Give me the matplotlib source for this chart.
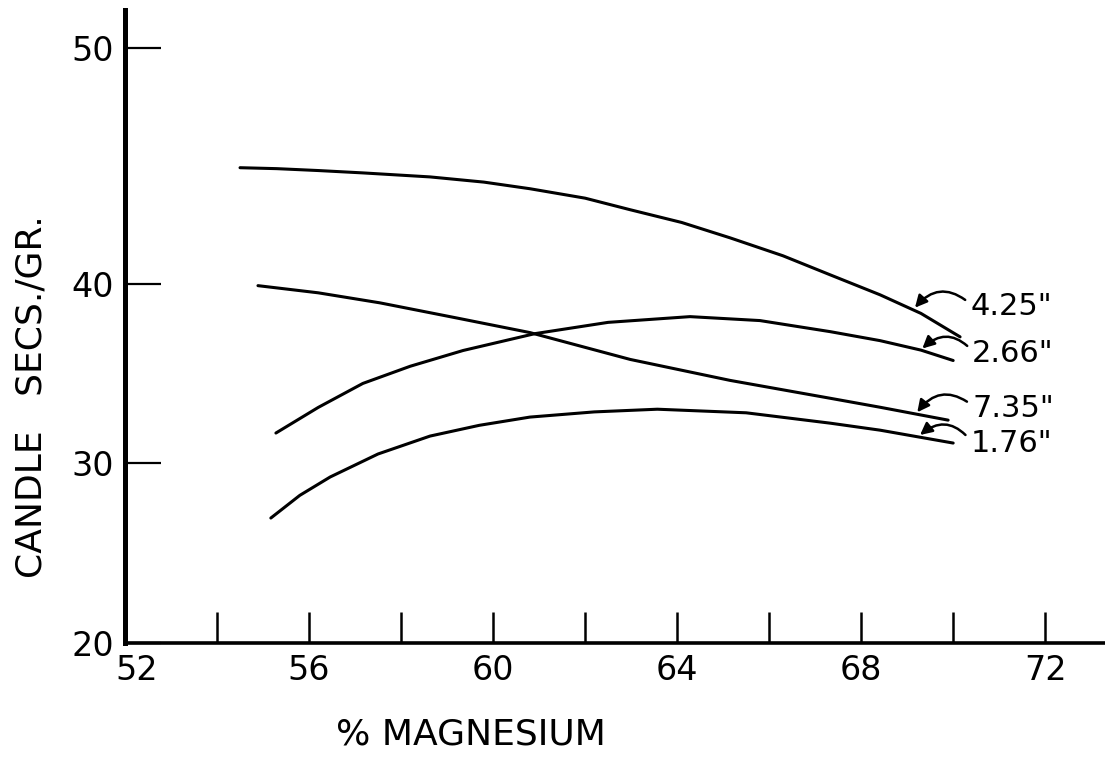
import matplotlib
matplotlib.use("Agg")
import numpy as np
import matplotlib.pyplot as plt
from matplotlib.transforms import ScaledTranslation

# curves (% magnesium, candle secs./gr.)
mg_425 = [54.5, 55.3, 56.2, 57.17, 58.63, 59.8, 60.80, 62.0, 62.98, 64.1, 65.15, 66.3, 67.33, 68.41, 69.3, 70.15]
cs_425 = [44.92, 44.88, 44.8, 44.70, 44.53, 44.31, 44.03, 43.63, 43.14, 42.60, 41.95, 41.19, 40.38, 39.39, 38.35, 37.04]

mg_266 = [55.28, 56.2, 57.17, 58.2, 59.35, 60.91, 62.5, 64.28, 65.8, 67.33, 68.41, 69.3, 70.0]
cs_266 = [31.67, 33.1, 34.44, 35.4, 36.28, 37.22, 37.85, 38.17, 37.95, 37.33, 36.83, 36.3, 35.72]

mg_735 = [54.89, 56.2, 57.54, 59.2, 60.80, 62.98, 65.15, 67.33, 68.41, 69.89]
cs_735 = [39.9, 39.5, 38.94, 38.1, 37.28, 35.78, 34.61, 33.61, 33.11, 32.39]

mg_176 = [55.17, 55.8, 56.46, 57.5, 58.63, 59.7, 60.80, 62.2, 63.57, 65.5, 67.33, 68.41, 70.0]
cs_176 = [26.94, 28.2, 29.22, 30.5, 31.5, 32.1, 32.56, 32.85, 33.0, 32.8, 32.22, 31.83, 31.11]

curve_labels = ['4.25"', '2.66"', '7.35"', '1.76"']
x_ticks = [52, 56, 60, 64, 68, 72]
x_minor = [54, 58, 62, 66, 70]
y_ticks = [20, 30, 40, 50]

# the hand-drawn y axis is not evenly spaced: the 40-50 step is longer
y_anchor = [20, 30, 40, 50, 60]
y_drawn = [0, 180, 359, 595, 831]


def fwd(v):
    return np.interp(v, y_anchor, y_drawn)


def inv(v):
    return np.interp(v, y_drawn, y_anchor)


fig = plt.figure(figsize=(11.05, 7.6), dpi=100)
ax = fig.add_axes([125 / 1105, 117 / 760, 980 / 1105, 633 / 760])
ax.set_yscale('function', functions=(fwd, inv))

for xs, ys in [(mg_425, cs_425), (mg_266, cs_266), (mg_735, cs_735), (mg_176, cs_176)]:
    ax.plot(xs, ys, color='black', lw=2.2, solid_capstyle='round', solid_joinstyle='round')

# labels with curved pointer arrows: (text x, text y, arrow tip x, arrow tip y)
label_pos = [(70.37, 38.72, 69.17, 38.67),
             (70.41, 36.11, 69.33, 36.39),
             (70.41, 33.06, 69.22, 32.83),
             (70.37, 31.11, 69.28, 31.56)]
for text, (tx, ty, px, py) in zip(curve_labels, label_pos):
    ax.annotate(text, xy=(px, py), xytext=(tx, ty), fontsize=22,
                ha='left', va='center',
                arrowprops=dict(arrowstyle='-|>', color='black', lw=1.8,
                                mutation_scale=18, relpos=(0, 0.6),
                                shrinkA=2, shrinkB=0,
                                connectionstyle='arc3,rad=0.5'))

ax.set_xlim(52, 73.3)
ax.set_ylim(20, 51.6)

for side in ['top', 'right']:
    ax.spines[side].set_visible(False)
ax.spines['left'].set_linewidth(3.6)
ax.spines['bottom'].set_linewidth(2.6)

ax.set_xticks(x_ticks)
ax.set_xticks(x_minor, minor=True)
ax.set_yticks(y_ticks)
ax.yaxis.set_minor_locator(plt.NullLocator())
ax.tick_params(axis='x', which='both', direction='in', length=22, width=1.8,
               labelsize=24, pad=8)
ax.tick_params(axis='y', direction='in', length=26, width=1.6,
               labelsize=24, pad=8)

# the "52" sits a little right of the corner, clear of the "20"
first = ax.get_xticklabels()[0]
first.set_transform(first.get_transform() + ScaledTranslation(0.12, 0, fig.dpi_scale_trans))

ax.set_xlabel('% MAGNESIUM', fontsize=26)
ax.xaxis.set_label_coords(0.353, -0.118)
ax.set_ylabel('CANDLE   SECS./GR.', fontsize=26)
ax.yaxis.set_label_coords(-0.078, 0.39)

fig.savefig('out.png', dpi=100)
